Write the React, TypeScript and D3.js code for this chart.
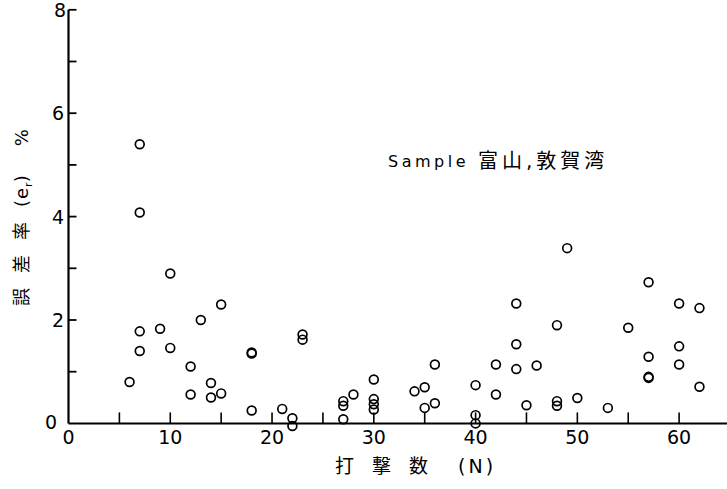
import React, { useEffect, useRef } from "react";
import * as d3 from "d3";

// Blow count N for each sample, and the matching error rate e_r (%)
const blowCounts: number[] = [
  6, 7, 7, 7, 7, 9, 10, 10, 12, 12, 13, 14, 14, 15, 15,
  18, 18, 18, 21, 22, 22, 23, 23, 27, 27, 27, 28,
  30, 30, 30, 30, 34, 35, 35, 36, 36, 40, 40, 40,
  42, 42, 44, 44, 44, 45, 46, 48, 48, 48, 49, 50, 53,
  55, 57, 57, 57, 57, 60, 60, 60, 62, 62,
];
const errorRates: number[] = [
  0.8, 5.4, 4.08, 1.78, 1.4, 1.83, 2.9, 1.46, 1.1, 0.56, 2.0, 0.78, 0.5, 2.3, 0.58,
  1.35, 1.37, 0.25, 0.28, 0.1, -0.05, 1.72, 1.62, 0.43, 0.34, 0.08, 0.56,
  0.85, 0.47, 0.37, 0.27, 0.62, 0.7, 0.3, 1.14, 0.39, 0.74, 0.16, 0.0,
  1.14, 0.56, 2.32, 1.53, 1.05, 0.35, 1.12, 1.9, 0.43, 0.34, 3.39, 0.49, 0.3,
  1.85, 2.73, 1.29, 0.9, 0.88, 2.32, 1.49, 1.14, 2.23, 0.71,
];

const xTickLabels: number[] = [0, 10, 20, 30, 40, 50, 60];
const xMinorTicks: number[] = [5, 10, 15, 20, 25, 30, 35, 40, 45, 50, 55, 60, 65];
const yTickLabels: number[] = [2, 4, 6, 8];
const yTicks: number[] = [1, 2, 3, 4, 5, 6, 7, 8];

const W = 727;
const H = 489;
const FONT = "'DejaVu Sans', 'Noto Sans CJK JP', sans-serif";

export default function App() {
  const ref = useRef<SVGSVGElement | null>(null);

  useEffect(() => {
    const svg = d3.select(ref.current);
    svg.selectAll("*").remove();

    const x = d3.scaleLinear().domain([0, 65]).range([68.5, 730]);
    const y = d3.scaleLinear().domain([0, 8]).range([423.4, 9.8]);

    const g = svg.append("g");

    // axes lines
    g.append("line")
      .attr("x1", x(0)).attr("x2", x(0))
      .attr("y1", y(8)).attr("y2", y(0))
      .attr("stroke", "#000").attr("stroke-width", 2.2);
    g.append("line")
      .attr("x1", x(0)).attr("x2", W)
      .attr("y1", y(0)).attr("y2", y(0))
      .attr("stroke", "#000").attr("stroke-width", 2);

    // y ticks pointing inward
    g.selectAll("line.yt").data(yTicks).join("line")
      .attr("class", "yt")
      .attr("x1", x(0)).attr("x2", x(0) + 8)
      .attr("y1", (d) => y(d)).attr("y2", (d) => y(d))
      .attr("stroke", "#000").attr("stroke-width", 1.8);

    // x ticks pointing up
    g.selectAll("line.xt").data(xMinorTicks).join("line")
      .attr("class", "xt")
      .attr("x1", (d) => x(d)).attr("x2", (d) => x(d))
      .attr("y1", y(0)).attr("y2", y(0) - 11)
      .attr("stroke", "#000").attr("stroke-width", 1.6);

    // y tick labels
    g.selectAll("text.yl").data(yTickLabels).join("text")
      .attr("class", "yl")
      .attr("x", (d) => (d === 8 ? 66 : 64))
      .attr("y", (d) => y(d) + 7)
      .attr("text-anchor", "end")
      .attr("font-family", FONT).attr("font-size", 19)
      .text((d) => String(d));
    g.append("text")
      .attr("x", 57).attr("y", y(0) + 6)
      .attr("text-anchor", "end")
      .attr("font-family", FONT).attr("font-size", 19)
      .text("0");

    // x tick labels
    g.selectAll("text.xl").data(xTickLabels).join("text")
      .attr("class", "xl")
      .attr("x", (d) => x(d))
      .attr("y", y(0) + 21)
      .attr("text-anchor", "middle")
      .attr("font-family", FONT).attr("font-size", 19)
      .text((d) => String(d));

    // points
    const pts = blowCounts.map((n, i) => ({ n, e: errorRates[i] }));
    g.selectAll("circle.pt").data(pts).join("circle")
      .attr("class", "pt")
      .attr("cx", (d) => x(d.n))
      .attr("cy", (d) => y(d.e))
      .attr("r", 4.4)
      .attr("fill", "none")
      .attr("stroke", "#000")
      .attr("stroke-width", 1.7);

    // x axis title
    const xt = g.append("text")
      .attr("x", 335).attr("y", 473)
      .attr("font-family", FONT).attr("font-size", 19);
    xt.append("tspan").attr("letter-spacing", 18).text("打撃数");
    xt.append("tspan").attr("dx", 12).attr("letter-spacing", 3).text("(N)");

    // y axis title, rotated
    const yt = g.append("text")
      .attr("transform", "translate(28,306) rotate(-90)")
      .attr("font-family", FONT).attr("font-size", 18);
    yt.append("tspan").attr("letter-spacing", 15).text("誤差率");
    yt.append("tspan").attr("letter-spacing", 1).text("(e");
    yt.append("tspan").attr("font-size", 11).attr("dy", 4).text("r");
    yt.append("tspan").attr("dy", -4).attr("letter-spacing", 1).text(")");
    yt.append("tspan").attr("dx", 28).text("%");

    // sample annotation
    g.append("text")
      .attr("x", 388).attr("y", 167)
      .attr("font-family", FONT).attr("font-size", 16)
      .attr("letter-spacing", 3.5)
      .text("Sample");
    g.append("text")
      .attr("x", 478).attr("y", 168)
      .attr("font-family", FONT).attr("font-size", 20)
      .attr("letter-spacing", 4)
      .text("富山,敦賀湾");
  }, []);

  return (
    <div style={{ position: "absolute", left: 0, top: 0 }}>
      <svg ref={ref} width={W} height={H} style={{ display: "block", background: "#fff" }} />
    </div>
  );
}
